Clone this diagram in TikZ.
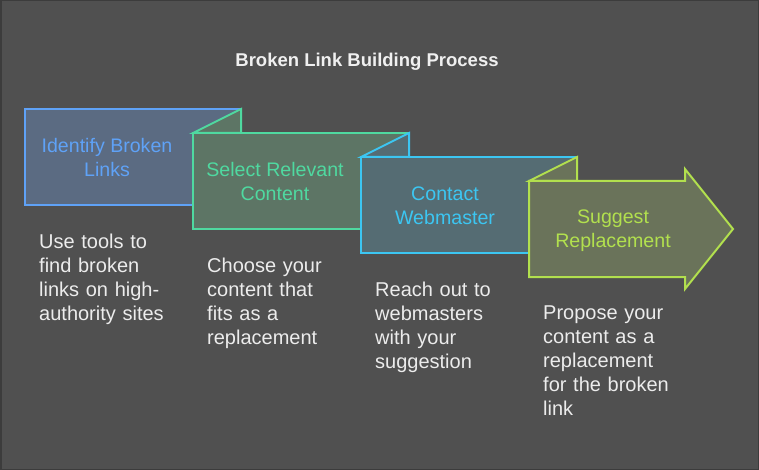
\documentclass[tikz,border=0pt]{standalone}
\usepackage{fontspec}
\setmainfont{Liberation Sans}
\definecolor{bg}{HTML}{505050}
\definecolor{frame}{HTML}{3C3C3C}
\definecolor{sA}{HTML}{5FA2F7}
\definecolor{fA}{HTML}{5B6B82}
\definecolor{sB}{HTML}{4FD9A0}
\definecolor{fB}{HTML}{5D7565}
\definecolor{sC}{HTML}{3CC6F2}
\definecolor{fC}{HTML}{556C73}
\definecolor{sD}{HTML}{B2E04E}
\definecolor{fD}{HTML}{6A735A}
\definecolor{desc}{HTML}{ECECEC}
\tikzset{
  boxline/.style={line width=2pt, line join=miter},
  head/.style={font=\fontsize{19.6}{24}\selectfont, align=center, inner sep=0pt},
  body/.style={font=\fontsize{20}{24}\selectfont, align=left, anchor=north west, inner sep=0pt, text=desc, text width=160pt},
}
\begin{document}
\begin{tikzpicture}[x=1pt,y=-1pt]
\useasboundingbox (0,0) rectangle (759,470);
\fill[bg] (0,0) rectangle (759,470);
\draw[frame, line width=1.5pt] (0.75,0.75) rectangle (758.25,469.25);
\node[font=\bfseries\fontsize{18.5}{22}\selectfont, text={rgb,255:red,240;green,240;blue,240}, inner sep=0pt] (title) at (367,62) {Broken Link Building Process};
% box 1
\draw[boxline, draw=sA, fill=fA] (25,109) rectangle (241,205);
% box 2
\draw[boxline, draw=sB, fill=fB] (193,133) -- (241,109) -- (241,133) -- cycle;
\draw[boxline, draw=sB, fill=fB] (193,133) rectangle (409,229);
% box 3
\draw[boxline, draw=sC, fill=fC] (361,157) -- (409,133) -- (409,157) -- cycle;
\draw[boxline, draw=sC, fill=fC] (361,157) rectangle (577,253);
% box 4
\draw[boxline, draw=sD, fill=fD] (529,181) -- (577,157) -- (577,181) -- cycle;
\draw[boxline, draw=sD, fill=fD] (529,181) -- (685,181) -- (685,169) -- (733,229) -- (685,289) -- (685,277) -- (529,277) -- cycle;
% headings
\node[head, text=sA] (h1) at (107,157) {Identify Broken\\Links};
\node[head, text=sB] (h2) at (275,181) {Select Relevant\\Content};
\node[head, text=sC] (h3) at (445,206) {Contact\\Webmaster};
\node[head, text=sD] (h4) at (613,231) {Suggest\\Replacement};
% descriptions
\node[body] (d1) at (39,234) {Use tools to\\find broken\\links on high-\\authority sites};
\node[body] (d2) at (207,258) {Choose your\\content that\\fits as a\\replacement};
\node[body] (d3) at (375,282) {Reach out to\\webmasters\\with your\\suggestion};
\node[body] (d4) at (543,306) {Propose your\\content as a\\replacement\\for the broken\\link};
\end{tikzpicture}
\end{document}
